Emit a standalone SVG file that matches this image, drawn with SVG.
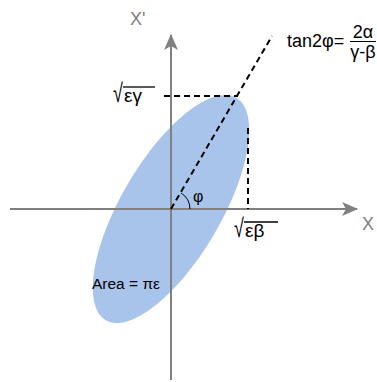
<svg xmlns="http://www.w3.org/2000/svg" width="377" height="382" viewBox="0 0 377 382">
<style>
.ax{stroke:#808080;stroke-width:2;fill:none}
.dash{stroke:#000;stroke-width:2;stroke-dasharray:6 4;fill:none}
.t{font-family:"Liberation Sans",Arial,sans-serif;fill:#000}
.g{font-family:"Liberation Sans",Arial,sans-serif;fill:#808080}
.ov{stroke:#000;stroke-width:1.3}
</style>
<defs>
<marker id="arr" viewBox="0 0 16 14" refX="15" refY="7" markerWidth="16" markerHeight="14" markerUnits="userSpaceOnUse" orient="auto">
<path d="M0,0 L16,7 L0,14 L4,7 Z" fill="#808080"/>
</marker>
</defs>
<g id="ellipse">
<ellipse cx="171" cy="209" rx="129" ry="50" transform="rotate(-59.6 171 209)" fill="#A9C4EB"/>
</g>
<g id="connectors">
<line class="ax" x1="10" y1="209" x2="357" y2="209" marker-end="url(#arr)"/>
<line class="ax" x1="171" y1="380" x2="171" y2="35" marker-end="url(#arr)"/>
<line class="dash" x1="171" y1="209" x2="272" y2="36"/>
<line class="dash" x1="164" y1="96" x2="238" y2="96"/>
<line class="dash" x1="248" y1="128" x2="248" y2="209"/>
<path d="M190,209 A19,19 0 0 0 181,193" stroke="#000" stroke-width="1" fill="none"/>
</g>
<g id="labels">
<text class="g" x="362" y="230" font-size="18">X</text>
<text class="g" x="130" y="25" font-size="18">X'</text>
<text class="t" x="193" y="202" font-size="16">φ</text>
<g id="sqrt-gamma">
<text class="t" font-size="18" transform="translate(113,102) scale(1,1.45)">√</text>
<text class="t" x="124" y="102" font-size="19">εγ</text>
<line class="ov" x1="123" y1="87" x2="155" y2="87"/>
</g>
<g id="sqrt-beta">
<text class="t" font-size="18" transform="translate(234,237) scale(1,1.45)">√</text>
<text class="t" x="245" y="237" font-size="19">εβ</text>
<line class="ov" x1="244" y1="222" x2="278" y2="222"/>
</g>
<text class="t" x="92" y="289" font-size="15.5">Area = πε</text>
<text class="t" x="287" y="47" font-size="18">tan2φ=</text>
<text class="t" x="363" y="38" font-size="18" text-anchor="middle">2α</text>
<line x1="350" y1="41.5" x2="376" y2="41.5" stroke="#000" stroke-width="1"/>
<text class="t" x="363" y="58" font-size="18" text-anchor="middle">γ-β</text>
</g>
</svg>
